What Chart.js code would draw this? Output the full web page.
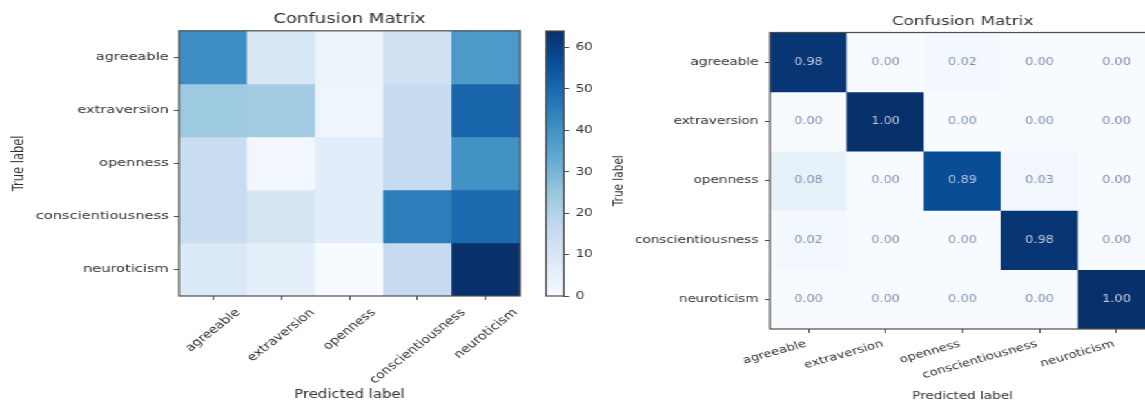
<!DOCTYPE html>
<html>
<head>
<meta charset="utf-8">
<script src="https://cdn.jsdelivr.net/npm/chart.js@4.4.1/dist/chart.umd.min.js"></script>
<style>
  html, body { margin: 0; padding: 0; width: 1145px; height: 402px; overflow: hidden; background: #fff; }
  /* the figure is laid out at 888px and widened to the full 1145px */
  #stage { position: absolute; left: 0; top: 0; width: 888px; height: 402px; transform: scaleX(1.2894); transform-origin: 0 0; }
  .box { position: absolute; top: 0; height: 402px; }
  #countBox { left: 0; width: 410px; }
  #barBox { left: 410px; width: 62px; }
  #rateBox { left: 470px; width: 440px; }
</style>
</head>
<body>
<div id="stage">
  <div class="box" id="countBox"><canvas id="countChart"></canvas></div>
  <div class="box" id="barBox"><canvas id="barChart"></canvas></div>
  <div class="box" id="rateBox"><canvas id="rateChart"></canvas></div>
</div>
<script>
// class names (rows = true label, columns = predicted label)
const classNames = ['agreeable', 'extraversion', 'openness', 'conscientiousness', 'neuroticism'];

// raw counts
const countAgreeable         = [41, 10, 4, 13, 38];
const countExtraversion      = [24, 23, 3, 16, 51];
const countOpenness          = [15, 2, 7, 16, 40];
const countConscientiousness = [15, 11, 7, 45, 50];
const countNeuroticism       = [9, 6, 0, 16, 64];

// row-normalised rates
const rateAgreeable         = [0.98, 0.00, 0.02, 0.00, 0.00];
const rateExtraversion      = [0.00, 1.00, 0.00, 0.00, 0.00];
const rateOpenness          = [0.08, 0.00, 0.89, 0.03, 0.00];
const rateConscientiousness = [0.02, 0.00, 0.00, 0.98, 0.00];
const rateNeuroticism       = [0.00, 0.00, 0.00, 0.00, 1.00];

// colour bar tick labels
const colorbarTicks = [0, 10, 20, 30, 40, 50, 60];

const countRows = [countAgreeable, countExtraversion, countOpenness, countConscientiousness, countNeuroticism];
const rateRows = [rateAgreeable, rateExtraversion, rateOpenness, rateConscientiousness, rateNeuroticism];
const countMax = Math.max(...countRows.flat());
const countMin = Math.min(...countRows.flat());

const FONT = '"DejaVu Sans", Verdana, sans-serif';
const TEXT = '#303030';
const LINE = '#4d4d4d';

// "Blues" sequential colour map
const BLUES = ['#f7fbff', '#deebf7', '#c6dbef', '#9ecae1', '#6baed6', '#4292c6', '#2171b5', '#08519c', '#08306b'];
function hexToRgb(h) { return [1, 3, 5].map(i => parseInt(h.slice(i, i + 2), 16)); }
function blues(t) {
  t = Math.max(0, Math.min(1, t));
  const p = t * (BLUES.length - 1);
  const i = Math.min(BLUES.length - 2, Math.floor(p));
  const f = p - i;
  const a = hexToRgb(BLUES[i]), b = hexToRgb(BLUES[i + 1]);
  const c = a.map((v, k) => Math.round(v + (b[k] - v) * f));
  return `rgb(${c[0]},${c[1]},${c[2]})`;
}

// box around the plotting area
const frame = {
  id: 'frame',
  afterDatasetsDraw(chart) {
    const a = chart.chartArea, ctx = chart.ctx;
    ctx.save();
    ctx.strokeStyle = LINE;
    ctx.lineWidth = 1.2;
    ctx.strokeRect(a.left, a.top, a.right - a.left, a.bottom - a.top);
    ctx.restore();
  }
};

// rotated category labels under the x axis
const rotatedXLabels = {
  id: 'rotatedXLabels',
  afterDraw(chart, args, o) {
    const s = chart.scales.x, ctx = chart.ctx;
    const th = o.angle * Math.PI / 180;
    const h = o.size * 1.15;
    ctx.save();
    ctx.font = `${o.size}px ${FONT}`;
    ctx.fillStyle = TEXT;
    ctx.textBaseline = 'middle';
    chart.data.labels.forEach((label, i) => {
      const x = s.getPixelForTick(i);
      const y0 = s.top + o.gap;
      const w = ctx.measureText(label).width;
      ctx.save();
      if (o.align === 'center') {
        ctx.translate(x, y0 + (w * Math.sin(th) + h * Math.cos(th)) / 2);
        ctx.textAlign = 'center';
      } else {
        ctx.translate(x - (h / 2) * Math.sin(th), y0 + (h / 2) * Math.cos(th));
        ctx.textAlign = 'right';
      }
      ctx.rotate(-th);
      ctx.fillText(label, 0, 0);
      ctx.restore();
    });
    ctx.restore();
  }
};

// value printed in the middle of each cell
const cellText = {
  id: 'cellText',
  afterDatasetsDraw(chart, args, o) {
    if (!o.show) return;
    const ctx = chart.ctx;
    ctx.save();
    ctx.font = `${o.size}px ${FONT}`;
    ctx.textAlign = 'center';
    ctx.textBaseline = 'middle';
    chart.data.datasets.forEach((ds, r) => {
      chart.getDatasetMeta(r).data.forEach((bar, c) => {
        const v = ds.values[c];
        const p = bar.getCenterPoint();
        ctx.fillStyle = v > 0.5 ? '#bfcade' : '#7f90b0';
        ctx.fillText(v.toFixed(2), p.x, p.y);
      });
    });
    ctx.restore();
  }
};

function matrixChart(id, rows, vmin, vmax, cfg) {
  const datasets = rows.map((row, r) => ({
    label: classNames[r],
    values: row,
    data: row.map(() => [r, r + 1]),
    backgroundColor: row.map(v => blues((v - vmin) / (vmax - vmin))),
    borderWidth: 0,
    grouped: false,
    barPercentage: 1,
    categoryPercentage: 1
  }));
  return new Chart(document.getElementById(id), {
    type: 'bar',
    data: { labels: classNames, datasets },
    plugins: [frame, rotatedXLabels, cellText],
    options: {
      responsive: true,
      maintainAspectRatio: false,
      animation: false,
      events: [],
      layout: { padding: { left: 0, right: cfg.padRight, top: 0, bottom: 0 } },
      plugins: {
        legend: { display: false },
        tooltip: { enabled: false },
        title: {
          display: true, text: 'Confusion Matrix', fullSize: false, color: TEXT,
          font: { family: FONT, size: cfg.titleSize, weight: 'normal' },
          padding: { top: cfg.titleTop, bottom: cfg.titleBottom }
        },
        rotatedXLabels: { angle: cfg.xAngle, align: cfg.xAlign, size: cfg.xTickSize, gap: cfg.xGap },
        cellText: { show: cfg.values, size: 10 }
      },
      scales: {
        x: {
          type: 'category',
          offset: true,
          grid: { offset: false, drawOnChartArea: false, drawTicks: true, tickLength: 4, color: LINE },
          border: { display: false },
          ticks: { display: false },
          title: {
            display: true, text: 'Predicted label', color: TEXT,
            font: { family: FONT, size: cfg.axisTitleSize }, padding: { top: 0, bottom: cfg.xTitleBottom }
          },
          afterFit: s => { s.height = cfg.xAxisHeight; }
        },
        y: {
          type: 'linear',
          min: 0, max: classNames.length,
          reverse: true,
          afterBuildTicks: s => { s.ticks = classNames.map((_, i) => ({ value: i + 0.5 })); },
          ticks: {
            autoSkip: false, color: TEXT, padding: cfg.yPad,
            font: { family: FONT, size: cfg.yTickSize },
            callback: v => classNames[Math.floor(v)]
          },
          grid: { drawOnChartArea: false, drawTicks: true, tickLength: 4, color: LINE },
          border: { display: false },
          title: {
            display: true, text: 'True label', color: TEXT,
            font: { family: FONT, size: cfg.axisTitleSize }, padding: { top: cfg.yTitleTop, bottom: 0 }
          },
          afterFit: s => { s.width = cfg.yAxisWidth; }
        }
      }
    }
  });
}

// counts
matrixChart('countChart', countRows, countMin, countMax, {
  padRight: 6.7, titleSize: 14, titleTop: 11, titleBottom: 3,
  xAngle: 45, xAlign: 'center', xTickSize: 11, yTickSize: 11.3, xGap: 10.5,
  axisTitleSize: 11.5, xTitleBottom: 0, xAxisHeight: 106,
  yPad: 4, yTitleTop: 8.5, yAxisWidth: 138.8, values: false
});

// colour bar for the counts
new Chart(document.getElementById('barChart'), {
  type: 'bar',
  data: {
    labels: [''],
    datasets: [{
      data: [[countMin, countMax]],
      borderWidth: 0,
      barPercentage: 1,
      categoryPercentage: 1,
      backgroundColor: ctx => {
        const chart = ctx.chart, y = chart.scales.y;
        if (!y || !chart.chartArea) return BLUES[4];
        const y0 = y.getPixelForValue(countMin), y1 = y.getPixelForValue(countMax);
        if (!isFinite(y0) || !isFinite(y1)) return BLUES[4];
        const g = chart.ctx.createLinearGradient(0, y0, 0, y1);
        BLUES.forEach((c, i) => g.addColorStop(i / (BLUES.length - 1), c));
        return g;
      }
    }]
  },
  plugins: [frame],
  options: {
    responsive: true,
    maintainAspectRatio: false,
    animation: false,
    events: [],
    layout: { padding: { left: 13.5, right: 0, top: 31, bottom: 106 } },
    plugins: { legend: { display: false }, tooltip: { enabled: false } },
    scales: {
      x: { display: false },
      y: {
        position: 'right',
        min: countMin, max: countMax,
        afterBuildTicks: s => { s.ticks = colorbarTicks.map(v => ({ value: v })); },
        ticks: { color: TEXT, padding: 5, font: { family: FONT, size: 10.5 } },
        grid: { drawOnChartArea: false, drawTicks: true, tickLength: 4, color: LINE },
        border: { display: false },
        afterFit: s => { s.width = 34.6; }
      }
    }
  }
});

// normalised rates
matrixChart('rateChart', rateRows, 0, 1, {
  padRight: 14.2, titleSize: 13, titleTop: 14.2, titleBottom: 2.7,
  xAngle: 20, xAlign: 'right', xTickSize: 10.3, yTickSize: 10.5, xGap: 9,
  axisTitleSize: 10.5, xTitleBottom: -1, xAxisHeight: 73,
  yPad: 5, yTitleTop: 3.8, yAxisWidth: 127.2, values: true
});
</script>
</body>
</html>
